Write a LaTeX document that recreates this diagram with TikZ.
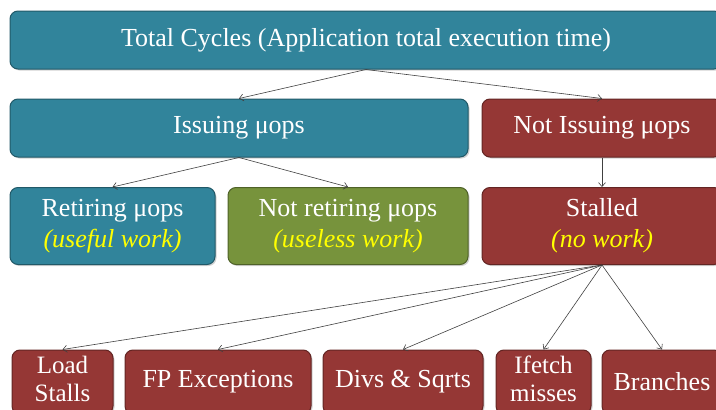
\documentclass[tikz,border=0pt]{standalone}
\usepackage{fontspec}
\setmainfont{Liberation Serif}
\usetikzlibrary{shadows,arrows.meta}
\definecolor{tealbox}{RGB}{49,132,155}
\definecolor{tealedge}{RGB}{33,89,104}
\definecolor{redbox}{RGB}{149,55,53}
\definecolor{rededge}{RGB}{99,37,35}
\definecolor{greenbox}{RGB}{119,147,60}
\definecolor{greenedge}{RGB}{79,98,40}
\definecolor{notecol}{RGB}{255,255,0}
\tikzset{
  box/.style={draw, line width=1pt, rounded corners=8pt, text=white,
    align=center, font=\fontsize{26}{31}\selectfont, inner sep=0pt,
    drop shadow={opacity=0.35, shadow xshift=1.5pt, shadow yshift=-1.5pt}},
  tealnode/.style={box, fill=tealbox, draw=tealedge},
  rednode/.style={box, fill=redbox, draw=rededge},
  greennode/.style={box, fill=greenbox, draw=greenedge},
  tight/.style={font=\fontsize{25}{28}\selectfont},
  link/.style={-{Straight Barb[length=4pt,width=7pt]}, draw=black!75, line width=0.6pt}
}
\newcommand{\note}[1]{{\color{notecol}\itshape #1}}
\begin{document}
\begin{tikzpicture}[x=1pt, y=-1pt]
    \useasboundingbox (0,0) rectangle (716,410);
    \clip (0,0) rectangle (716,410);

    \draw (366,40) node [tealnode, minimum width=712, minimum height=58] (total) {Total Cycles (Application total execution time)} ;

    \draw (239,128) node [tealnode, minimum width=458, minimum height=58] (issue) {Issuing μops} ;
    \draw (602,128) node [rednode, minimum width=240, minimum height=58] (noissue) {Not Issuing μops} ;

    \draw (112.5,226) node [tealnode, minimum width=205, minimum height=77] (retire) {Retiring μops\\\note{(useful work)}} ;
    \draw (348,226) node [greennode, minimum width=240, minimum height=77] (noretire) {Not retiring μops\\\note{(useless work)}} ;
    \draw (602,226) node [rednode, minimum width=240, minimum height=77] (stalled) {Stalled\\\note{(no work)}} ;

    \draw (62.5,382) node [rednode, minimum width=101, minimum height=64] (load) {} ;
    \node [tight, text=white, align=center] (loadtxt) at (62.5,379) {Load\\Stalls};
    \draw (218,382) node [rednode, minimum width=186, minimum height=64] (fp) {FP Exceptions} ;
    \draw (403,382) node [rednode, minimum width=160, minimum height=64] (divs) {Divs \& Sqrts} ;
    \draw (543.5,382) node [rednode, minimum width=95, minimum height=64] (ifetch) {} ;
    \node [tight, text=white, align=center] (ifetchtxt) at (543.5,379) {Ifetch\\misses};
    \draw (662,382) node [rednode, minimum width=120, minimum height=64] (branch) {Branches} ;

    \draw[link] (total.south) -- (issue.north);
    \draw[link] (total.south) -- (noissue.north);

    \draw[link] (issue.south) -- (retire.north);
    \draw[link] (issue.south) -- (noretire.north);
    \draw[link] (noissue.south) -- (stalled.north);

    \draw[link] (stalled.south) -- (load.north);
    \draw[link] (stalled.south) -- (fp.north);
    \draw[link] (stalled.south) -- (divs.north);
    \draw[link] (stalled.south) -- (ifetch.north);
    \draw[link] (stalled.south) -- (branch.north);
\end{tikzpicture}
\end{document}
